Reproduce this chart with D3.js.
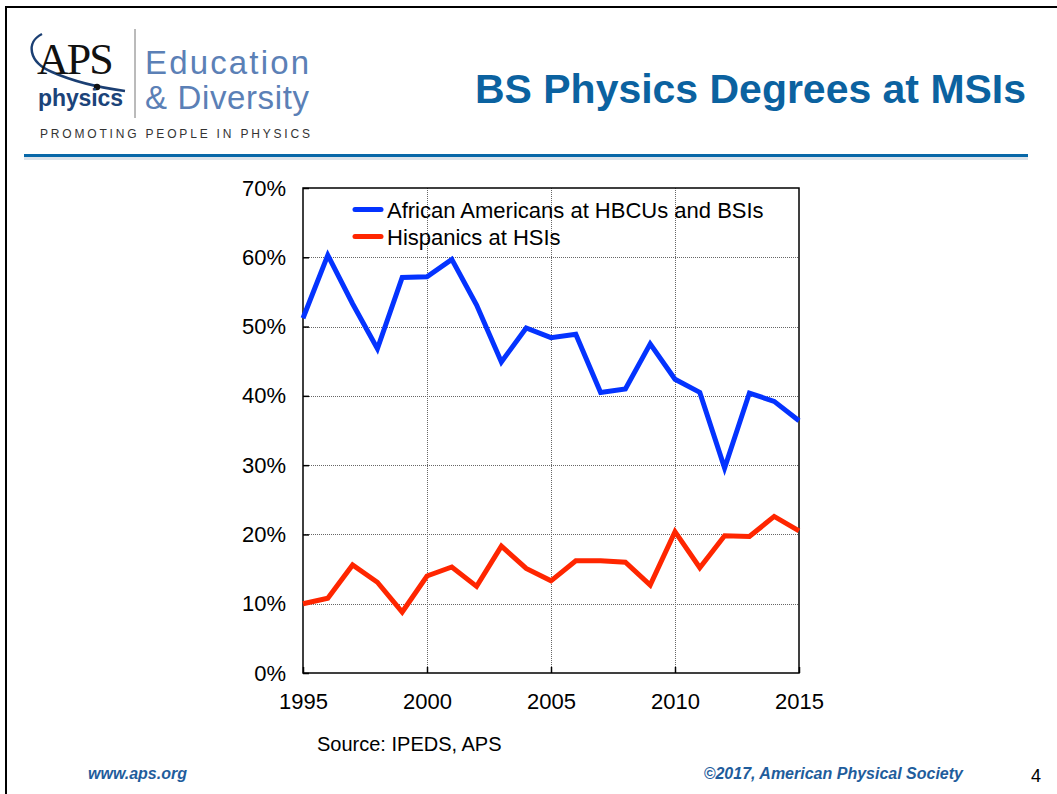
<!DOCTYPE html>
<html>
<head>
  <meta charset="utf-8">
  <title>BS Physics Degrees at MSIs</title>
  <script src="https://d3js.org/d3.v7.min.js"></script>
  <style>
    body { margin: 0; background: #fff; }
    text { font-family: "Liberation Sans", Arial, sans-serif; }
  </style>
</head>
<body>
  <script>
    // data
    var years = d3.range(1995, 2016);
    var africanAmericans = [51.2, 60.3, 53.3, 46.8, 57.1, 57.2, 59.7, 53.1, 44.9, 49.8,
                            48.4, 48.9, 40.5, 41.0, 47.5, 42.4, 40.5, 29.6, 40.4, 39.2, 36.4];
    var hispanics = [10.0, 10.8, 15.6, 13.1, 8.8, 14.0, 15.3, 12.5, 18.3, 15.1,
                     13.3, 16.2, 16.2, 16.0, 12.7, 20.4, 15.2, 19.8, 19.7, 22.6, 20.5];
    var seriesNames = ['African Americans at HBCUs and BSIs', 'Hispanics at HSIs'];
    var seriesColors = ['#0433ff', '#ff2600'];
    var yTicks = [0, 10, 20, 30, 40, 50, 60, 70];
    var xTicks = [1995, 2000, 2005, 2010, 2015];

    var width = 1057, height = 794;
    var plot = { left: 303, right: 799, top: 188, bottom: 673 };

    var svg = d3.select('body').append('svg')
      .attr('width', width)
      .attr('height', height);

    // slide frame
    svg.append('path')
      .attr('d', 'M6,' + height + 'V7H' + width)
      .attr('fill', 'none')
      .attr('stroke', '#000')
      .attr('stroke-width', 2);

    // ---- header / logo ----
    var logo = svg.append('g');
    logo.append('path')
      .attr('d', 'M42,34 C26,42 28,62 52,72 C70,80 95,87 125,91')
      .attr('fill', 'none')
      .attr('stroke', '#1b3f73')
      .attr('stroke-width', 2.5);
    logo.append('text')
      .attr('x', 37).attr('y', 74)
      .style('font-family', '"Liberation Serif", "Times New Roman", serif')
      .style('font-size', '44px')
      .style('letter-spacing', '-2px')
      .attr('fill', '#111')
      .text('APS');
    logo.append('circle')
      .attr('cx', 97).attr('cy', 87).attr('r', 3.2)
      .attr('fill', '#111');
    logo.append('text')
      .attr('x', 38).attr('y', 106)
      .style('font-size', '23px')
      .style('font-weight', 'bold')
      .attr('fill', '#1b4379')
      .attr('textLength', 85)
      .text('physics');
    logo.append('line')
      .attr('x1', 135).attr('x2', 135)
      .attr('y1', 29).attr('y2', 118)
      .attr('stroke', '#777')
      .attr('stroke-width', 1);
    logo.append('text')
      .attr('x', 145).attr('y', 74)
      .style('font-size', '33px')
      .attr('fill', '#5b80b6')
      .attr('textLength', 164)
      .text('Education');
    logo.append('text')
      .attr('x', 145).attr('y', 109)
      .style('font-size', '33px')
      .attr('fill', '#5b80b6')
      .attr('textLength', 164)
      .text('& Diversity');
    logo.append('text')
      .attr('x', 40).attr('y', 138)
      .style('font-size', '12px')
      .attr('fill', '#333')
      .attr('textLength', 270)
      .text('PROMOTING PEOPLE IN PHYSICS');

    svg.append('text')
      .attr('x', 475).attr('y', 103)
      .style('font-size', '40px')
      .style('font-weight', 'bold')
      .attr('fill', '#0b62a0')
      .attr('textLength', 551)
      .attr('lengthAdjust', 'spacingAndGlyphs')
      .text('BS Physics Degrees at MSIs');

    svg.append('rect')
      .attr('x', 24).attr('y', 157).attr('width', 1004).attr('height', 3)
      .attr('fill', '#dde3ea');
    svg.append('rect')
      .attr('x', 24).attr('y', 154).attr('width', 1004).attr('height', 3)
      .attr('fill', '#0868a8');

    // ---- chart ----
    var x = d3.scaleLinear().domain([1995, 2015]).range([plot.left, plot.right]);
    var y = d3.scaleLinear().domain([0, 70]).range([plot.bottom, plot.top]);

    var grid = svg.append('g')
      .attr('stroke', '#666')
      .attr('stroke-width', 1)
      .attr('stroke-dasharray', '1,1');
    grid.selectAll('line.h')
      .data(yTicks.slice(1, -1))
      .enter().append('line')
      .attr('x1', plot.left).attr('x2', plot.right)
      .attr('y1', function(d) { return Math.round(y(d)) + 0.5; })
      .attr('y2', function(d) { return Math.round(y(d)) + 0.5; });
    grid.selectAll('line.v')
      .data(xTicks.slice(1, -1))
      .enter().append('line')
      .attr('y1', plot.top).attr('y2', plot.bottom)
      .attr('x1', function(d) { return Math.round(x(d)) + 0.5; })
      .attr('x2', function(d) { return Math.round(x(d)) + 0.5; });

    var yAxis = svg.append('g')
      .attr('transform', 'translate(' + plot.left + ',0)')
      .call(d3.axisLeft(y).tickValues(yTicks).tickSize(-6).tickPadding(17)
        .tickFormat(function(d) { return d + '%'; }));
    var xAxis = svg.append('g')
      .attr('transform', 'translate(0,' + plot.bottom + ')')
      .call(d3.axisBottom(x).tickValues(xTicks).tickSize(-6).tickPadding(20)
        .tickFormat(d3.format('d')));
    [yAxis, xAxis].forEach(function(a) {
      a.select('.domain').remove();
      a.selectAll('line').attr('stroke', '#000').attr('stroke-width', 1.5);
      a.selectAll('text')
        .style('font-size', '22px')
        .style('font-family', '"Liberation Sans", Arial, sans-serif')
        .attr('fill', '#000');
    });

    svg.append('rect')
      .attr('x', plot.left).attr('y', plot.top)
      .attr('width', plot.right - plot.left)
      .attr('height', plot.bottom - plot.top)
      .attr('fill', 'none')
      .attr('stroke', '#000')
      .attr('stroke-width', 1.5);

    var line = d3.line()
      .x(function(d, i) { return x(years[i]); })
      .y(function(d) { return y(d); });

    [africanAmericans, hispanics].forEach(function(s, i) {
      svg.append('path')
        .datum(s)
        .attr('d', line)
        .attr('fill', 'none')
        .attr('stroke', seriesColors[i])
        .attr('stroke-width', 5)
        .attr('stroke-linejoin', 'miter');
    });

    // legend
    var legend = svg.append('g');
    seriesNames.forEach(function(name, i) {
      var ly = 209.5 + i * 27;
      legend.append('line')
        .attr('x1', 355).attr('x2', 381)
        .attr('y1', ly).attr('y2', ly)
        .attr('stroke', seriesColors[i])
        .attr('stroke-width', 5)
        .attr('stroke-linecap', 'round');
      legend.append('text')
        .attr('x', 387).attr('y', ly + 8)
        .style('font-size', '22px')
        .attr('fill', '#000')
        .text(name);
    });

    svg.append('text')
      .attr('x', 317).attr('y', 751)
      .style('font-size', '20px')
      .attr('fill', '#000')
      .text('Source: IPEDS, APS');

    // footer
    svg.append('text')
      .attr('x', 88).attr('y', 779)
      .style('font-size', '16px')
      .style('font-weight', 'bold')
      .style('font-style', 'italic')
      .attr('fill', '#1f5d9c')
      .text('www.aps.org');
    svg.append('text')
      .attr('x', 963).attr('y', 779)
      .attr('text-anchor', 'end')
      .style('font-size', '16px')
      .style('font-weight', 'bold')
      .style('font-style', 'italic')
      .attr('fill', '#1f5d9c')
      .text('\u00a92017, American Physical Society');
    svg.append('text')
      .attr('x', 1036).attr('y', 782)
      .attr('text-anchor', 'middle')
      .style('font-size', '18px')
      .attr('fill', '#000')
      .text('4');
  </script>
</body>
</html>
